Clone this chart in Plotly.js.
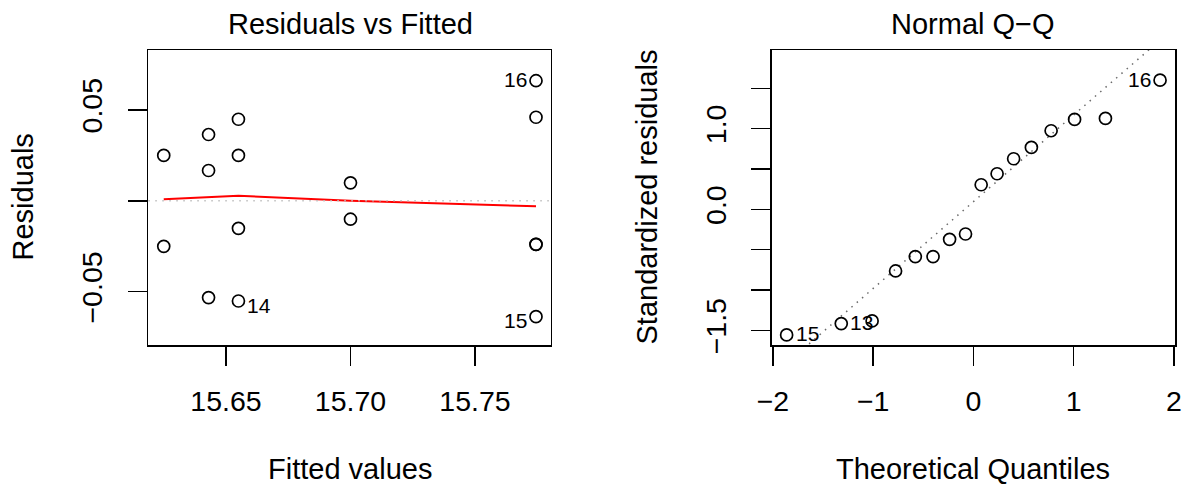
<!DOCTYPE html>
<html>
<head>
<meta charset="utf-8">
<script src="https://cdn.plot.ly/plotly-3.0.1.min.js"></script>
<style>
  html, body { margin: 0; padding: 0; background: #ffffff; }
  #chart { width: 1184px; height: 485px; }
</style>
</head>
<body>
<div id="chart"></div>
<script>
// ---- Residuals vs Fitted ----
const obsId     = [1, 2, 3, 4, 5, 6, 7, 8, 9, 10, 11, 12, 13, 14, 15, 16];
const fitted    = [15.625, 15.625, 15.643, 15.643, 15.655, 15.655, 15.655, 15.700,
                   15.700, 15.7745, 15.7745, 15.7745, 15.643, 15.655, 15.7745, 15.7745];
const residuals = [0.0250, -0.0250, 0.0365, 0.0167, 0.0449, 0.0250, -0.0151, 0.0099,
                   -0.0101, 0.0460, -0.0239, -0.0239, -0.0532, -0.0551, -0.0637, 0.0661];
const residLabelled = [14, 15, 16];

// lowess smooth through the residuals
const smoothX = [15.625, 15.643, 15.655, 15.700, 15.7745];
const smoothY = [0.0009, 0.0021, 0.0028, 0.0000, -0.0030];

// ---- Normal Q-Q ----
const theoQuant = [-1.863, -1.318, -1.010, -0.776, -0.579, -0.402, -0.237, -0.078,
                   0.078, 0.237, 0.402, 0.579, 0.776, 1.010, 1.318, 1.863];
const stdResid  = [-1.555, -1.415, -1.382, -0.763, -0.586, -0.586, -0.371, -0.305,
                   0.305, 0.441, 0.627, 0.767, 0.974, 1.114, 1.126, 1.600];
const qqId      = [15, 13, 14, 2, 11, 12, 7, 9, 8, 4, 6, 1, 3, 10, 5, 16];
const qqLabelled = [15, 13, 16];

// axis ticks
const xTicks1 = [15.65, 15.70, 15.75];
const xText1  = ['15.65', '15.70', '15.75'];
const yTicks1 = [-0.05, 0, 0.05];
const yText1  = ['\u22120.05', '', '0.05'];
const xTicks2 = [-2, -1, 0, 1, 2];
const xText2  = ['\u22122', '\u22121', '0', '1', '2'];
const yTicks2 = [-1.5, -1.0, -0.5, 0.0, 0.5, 1.0, 1.5];
const yText2  = ['\u22121.5', '', '', '0.0', '', '1.0', ''];

const FONT = 'Liberation Sans, Arial, Helvetica, sans-serif';
const W = 1184, H = 485;

const x1Range = [15.6188, 15.7804];
const y1Range = [-0.0793, 0.0830];
const x2Range = [-2.012, 2.012];
const y2Range = [-1.68, 1.974];

// reference line through the first and third quartiles
function quantile7(arr, p) {
  const s = arr.slice().sort((a, b) => a - b);
  const h = (s.length - 1) * p;
  const lo = Math.floor(h);
  return s[lo] + (h - lo) * (s[Math.min(lo + 1, s.length - 1)] - s[lo]);
}
const q1 = quantile7(stdResid, 0.25), q3 = quantile7(stdResid, 0.75);
const zq = 0.6744898;
const qqSlope = (q3 - q1) / (2 * zq);
const qqInt = q1 + zq * qqSlope;
const qqLineX = [x2Range[0] - 1, x2Range[1] + 1];
const qqLineY = qqLineX.map(v => qqInt + qqSlope * v);

const circle = {
  symbol: 'circle-open', size: 12, color: '#000000',
  line: { color: '#000000', width: 1.7 }
};

const traces = [
  {
    type: 'scatter', mode: 'lines', x: smoothX, y: smoothY,
    xaxis: 'x', yaxis: 'y', line: { color: '#ff0000', width: 2 },
    hoverinfo: 'skip'
  },
  {
    type: 'scatter', mode: 'markers', x: fitted, y: residuals,
    text: obsId.map(String), xaxis: 'x', yaxis: 'y', marker: circle, cliponaxis: false
  },
  {
    type: 'scatter', mode: 'lines', x: qqLineX, y: qqLineY,
    xaxis: 'x2', yaxis: 'y2', line: { color: '#6a6a6a', width: 1.5, dash: '1.5px,5.5px' },
    hoverinfo: 'skip'
  },
  {
    type: 'scatter', mode: 'markers', x: theoQuant, y: stdResid,
    text: qqId.map(String), xaxis: 'x2', yaxis: 'y2', marker: circle, cliponaxis: false
  }
];

const baseAxis = {
  showline: true, mirror: true, linecolor: '#000000', linewidth: 1.5,
  ticks: 'outside', ticklen: 19, tickwidth: 1.5, tickcolor: '#000000',
  showgrid: false, zeroline: false, fixedrange: true,
  tickfont: { family: FONT, size: 28.5, color: '#000000' },
  tickmode: 'array'
};

const annotations = [];
function addText(text, x, y, opts) {
  annotations.push(Object.assign({
    text: text, x: x, y: y, xref: 'paper', yref: 'paper', showarrow: false,
    font: { family: FONT, size: 29, color: '#000000' },
    xanchor: 'center', yanchor: 'middle'
  }, opts || {}));
}
// panel captions and axis titles
addText('Residuals vs Fitted', 350 / W, 1 - 24 / H);
addText('Normal Q\u2212Q', 973.4 / W, 1 - 24 / H);
addText('Fitted values', 350 / W, 1 - 469 / H);
addText('Theoretical Quantiles', 973.4 / W, 1 - 469 / H);
addText('Residuals', 22 / W, 1 - 197.5 / H, { textangle: -90 });
addText('Standardized residuals', 646 / W, 1 - 197.5 / H, { textangle: -90 });

// identify the most extreme observations
function idLabel(xv, yv, id, xref, yref, range, dy) {
  const right = xv < (range[0] + range[1]) / 2;
  annotations.push({
    text: String(id), x: xv, y: yv, xref: xref, yref: yref, showarrow: false,
    font: { family: FONT, size: 21, color: '#000000' },
    xanchor: right ? 'left' : 'right', yanchor: 'middle',
    xshift: right ? 7 : -7, yshift: dy
  });
}
obsId.forEach((id, i) => {
  if (residLabelled.includes(id)) {
    idLabel(fitted[i], residuals[i], id, 'x', 'y', x1Range, residuals[i] < 0 ? -4 : 1);
  }
});
qqId.forEach((id, i) => {
  if (qqLabelled.includes(id)) {
    idLabel(theoQuant[i], stdResid[i], id, 'x2', 'y2', x2Range, 1);
  }
});

const layout = {
  width: W, height: H,
  margin: { l: 0, r: 0, t: 0, b: 0, pad: 0 },
  paper_bgcolor: '#ffffff', plot_bgcolor: '#ffffff',
  showlegend: false,
  font: { family: FONT, color: '#000000' },
  xaxis: Object.assign({}, baseAxis, {
    domain: [148.3 / W, 550.7 / W], range: x1Range, anchor: 'y',
    tickvals: xTicks1, ticktext: xText1, ticklabelstandoff: 11
  }),
  yaxis: Object.assign({}, baseAxis, {
    domain: [1 - 345 / H, 1 - 50 / H], range: y1Range, anchor: 'x',
    tickvals: yTicks1, ticktext: yText1, tickangle: -90, ticklabelstandoff: 14
  }),
  xaxis2: Object.assign({}, baseAxis, {
    domain: [771.7 / W, 1175 / W], range: x2Range, anchor: 'y2',
    tickvals: xTicks2, ticktext: xText2, ticklabelstandoff: 11
  }),
  yaxis2: Object.assign({}, baseAxis, {
    domain: [1 - 345 / H, 1 - 50 / H], range: y2Range, anchor: 'x2',
    tickvals: yTicks2, ticktext: yText2, tickangle: -90, ticklabelstandoff: 14
  }),
  shapes: [{
    type: 'line', xref: 'x domain', yref: 'y', x0: 0, x1: 1, y0: 0, y1: 0,
    line: { color: '#bebebe', width: 1.5, dash: '1.5px,5.5px' }
  }],
  annotations: annotations
};

Plotly.newPlot('chart', traces, layout, { displayModeBar: false, staticPlot: true });
</script>
</body>
</html>
